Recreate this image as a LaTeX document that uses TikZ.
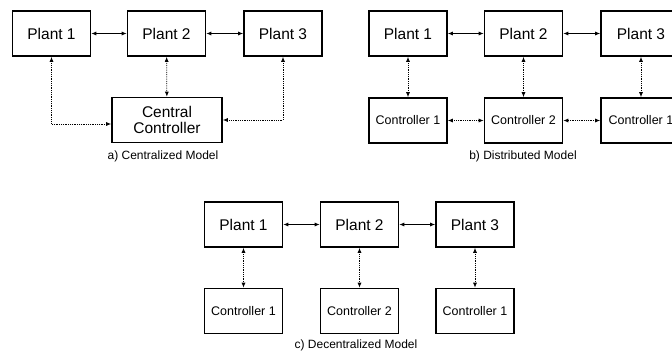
\documentclass[tikz,border=0pt]{standalone}
\usepackage{fontspec}
\setmainfont{Liberation Sans}
\usetikzlibrary{arrows.meta}
\begin{document}
\begin{tikzpicture}[x=1pt,y=-1pt,
  box/.style={draw, line width=1.6pt, minimum width=78pt, minimum height=45pt, inner sep=0pt, font=\fontsize{15.5}{17}\selectfont, align=center},
  cbox/.style={box, font=\fontsize{12.5}{14}\selectfont},
  link/.style={line width=0.8pt, {Latex[length=5pt,width=4pt]}-{Latex[length=5pt,width=4pt]}},
  dlink/.style={link, densely dotted},
  captext/.style={font=\fontsize{12}{14}\selectfont}]
\useasboundingbox (0,0) rectangle (672,354);
\clip (0,0) rectangle (672,354);
% panel a
\node[box] (a1) at (51.5,33.5) {Plant 1};
\node[box] (a2) at (166.5,33.5) {Plant 2};
\node[box] (a3) at (283,33.5) {Plant 3};
\node[box, minimum width=110pt, minimum height=45pt] (ac) at (167,120) {Central\\[-1pt]Controller};
\node[captext] (acap) at (163,156) {a) Centralized Model};
\draw[link] (a1) -- (a2);
\draw[link] (a2) -- (a3);
\draw[dlink] (a2) -- (ac);
\draw[dlink] (a1.south) |- (ac.west |- 0,124);
\draw[dlink] (a3.south) |- (ac.east |- 0,120);
% panel b
\node[box] (b1) at (408,33.5) {Plant 1};
\node[box] (b2) at (523.5,33.5) {Plant 2};
\node[box, minimum width=80pt] (b3) at (641,33.5) {Plant 3};
\node[cbox] (bc1) at (408,120.5) {Controller 1};
\node[cbox] (bc2) at (523.5,120.5) {Controller 2};
\node[cbox, minimum width=80pt] (bc3) at (641,120.5) {Controller 1};
\node[captext] (bcap) at (523,156) {b) Distributed Model};
\draw[link] (b1) -- (b2);
\draw[link] (b2) -- (b3);
\draw[dlink] (b1) -- (bc1);
\draw[dlink] (b2) -- (bc2);
\draw[dlink] (b3) -- (bc3);
\draw[dlink] (bc1) -- (bc2);
\draw[dlink] (bc2) -- (bc3);
% panel c
\node[box] (c1) at (243.5,224.5) {Plant 1};
\node[box] (c2) at (359.5,224.5) {Plant 2};
\node[box] (c3) at (475,224.5) {Plant 3};
\node[cbox] (cc1) at (243.5,311) {Controller 1};
\node[cbox] (cc2) at (359.5,311) {Controller 2};
\node[cbox] (cc3) at (475,311) {Controller 1};
\node[captext] (ccap) at (356,345) {c) Decentralized Model};
\draw[link] (c1) -- (c2);
\draw[link] (c2) -- (c3);
\draw[dlink] (c1) -- (cc1);
\draw[dlink] (c2) -- (cc2);
\draw[dlink] (c3) -- (cc3);
\end{tikzpicture}
\end{document}
